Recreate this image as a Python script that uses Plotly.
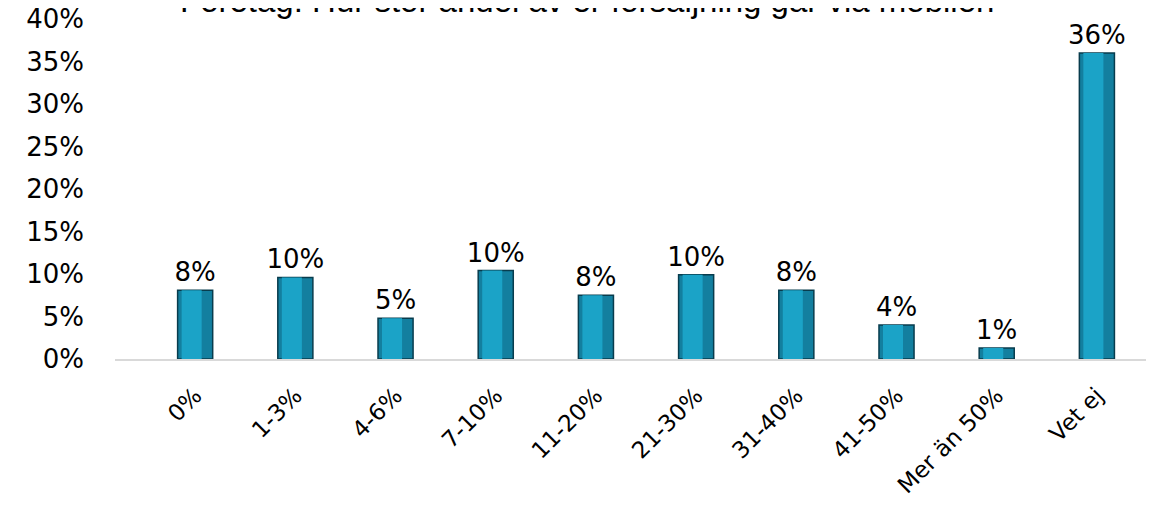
import plotly.graph_objects as go

categories = ["0%", "1-3%", "4-6%", "7-10%", "11-20%", "21-30%", "31-40%", "41-50%", "Mer än 50%", "Vet ej"]
values = [0.081, 0.096, 0.048, 0.104, 0.075, 0.099, 0.081, 0.040, 0.013, 0.360]
labels = ["8%", "10%", "5%", "10%", "8%", "10%", "8%", "4%", "1%", "36%"]
yticks = [0, 0.05, 0.10, 0.15, 0.20, 0.25, 0.30, 0.35, 0.40]
yticklabels = ["0%", "5%", "10%", "15%", "20%", "25%", "30%", "35%", "40%"]
title = "Företag: Hur stor andel av er försäljning går via mobilen"

xs = list(range(len(categories)))
fig = go.Figure()
fig.add_trace(go.Bar(
    x=xs, y=values,
    width=0.35,
    marker=dict(color="#137f9f", line=dict(color="#083c4d", width=1.5)),
    text=labels, textposition="outside", cliponaxis=False,
    constraintext="none",
    textfont=dict(family="DejaVu Sans", size=26, color="#000000"),
    hoverinfo="skip",
))
fig.add_trace(go.Bar(
    x=xs, y=values,
    width=0.2, offset=-0.135,
    marker=dict(color="#1ba3c7", line=dict(width=0)),
    hoverinfo="skip",
))

fig.update_layout(
    width=1154, height=507,
    margin=dict(l=107, r=12, t=11, b=156, autoexpand=False),
    plot_bgcolor="white", paper_bgcolor="white",
    showlegend=False, barmode="overlay",
    annotations=[dict(
        text=title, xref="paper", yref="paper", x=0.456, y=0.994,
        xanchor="center", yanchor="bottom", showarrow=False,
        font=dict(family="Liberation Sans", size=33, color="#000000"),
    )],
)
fig.update_xaxes(
    range=[-0.8, 9.53], automargin=False,
    tickmode="array", tickvals=xs, ticktext=categories,
    tickangle=-45, showgrid=False, zeroline=False,
    showline=True, linecolor="#d9d9d9", linewidth=2,
    ticks="", ticklabelstandoff=12, ticklabeloverflow="allow",
    tickfont=dict(family="DejaVu Sans", size=23, color="#000000"),
)
fig.update_yaxes(
    range=[0, 0.40], automargin=False,
    tickmode="array", tickvals=yticks, ticktext=yticklabels,
    showgrid=False, zeroline=False, showline=False, ticks="",
    ticklabelstandoff=30, ticklabeloverflow="allow",
    tickfont=dict(family="DejaVu Sans", size=26, color="#000000"),
)

fig.write_html("out.html")
